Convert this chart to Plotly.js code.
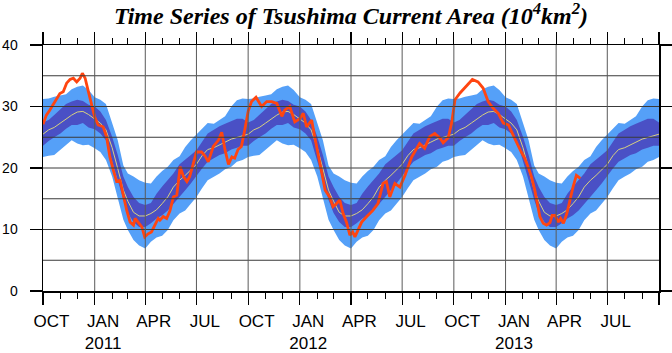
<!DOCTYPE html>
<html>
<head>
<meta charset="utf-8">
<script src="https://cdn.plot.ly/plotly-3.0.1.min.js"></script>
<style>html,body{margin:0;padding:0;background:#fff}#chart{width:672px;height:353px}</style>
</head>
<body>
<div id="chart"></div>
<script>
// ---- climatology (one year, Oct -> Sep), repeated each season ----
const climMonthDay = ['10-01','10-11','10-21','11-01','11-11','11-21','12-01','12-11','12-21','01-01','01-11','01-21','02-01','02-11','02-21','03-01','03-11','03-21','04-01','04-11','04-21','05-01','05-11','05-21','06-01','06-11','06-21','07-01','07-11','07-21','08-01','08-11','08-21','09-01','09-11','09-21'];
const climOuterTop = [31.2,31.3,31.6,31.8,32.0,32.8,33.2,33.4,32.7,31.5,31.1,30.4,27.5,24.5,20.4,19.1,18.6,18.0,17.6,17.5,18.6,19.5,20.2,21.3,21.9,23.4,24.5,25.4,26.4,27.3,27.2,27.8,28.4,30.0,31.0,31.3];
const climInnerTop = [27.4,27.8,28.6,29.6,30.4,30.8,31.1,30.9,30.3,30.0,29.2,27.8,25.1,22.1,18.6,16.9,15.3,14.3,14.0,14.3,15.8,17.0,18.0,19.1,20.6,21.3,22.1,22.9,24.3,25.6,26.2,26.8,27.2,27.6,28.0,28.0];
const climMean     = [25.5,26.2,26.6,27.3,28.0,28.6,29.1,29.2,28.7,27.9,27.3,26.2,23.3,19.9,16.4,14.6,12.8,12.2,12.2,12.6,13.2,14.2,15.3,16.9,18.0,18.8,19.7,20.6,22.0,23.0,23.3,23.7,24.2,24.7,25.0,25.3];
const climInnerBot = [23.6,24.4,25.0,25.6,26.4,27.0,27.0,27.3,26.6,26.3,25.6,24.5,21.3,18.0,14.8,12.7,11.2,10.4,10.4,11.0,11.8,12.3,13.1,14.2,15.3,16.4,17.5,18.6,19.9,21.0,21.6,22.1,22.4,23.0,23.3,23.6];
const climOuterBot = [21.8,22.0,22.1,22.9,23.7,24.5,24.0,23.7,23.8,23.2,22.6,21.3,18.6,15.3,11.6,9.9,8.3,7.4,6.9,8.0,8.7,9.0,9.9,11.5,12.6,13.1,14.2,15.3,16.7,18.0,18.6,19.1,19.8,20.2,21.0,21.3];
const seasonStartYears = [2010, 2011, 2012];

// ---- observed series ----
const obsDates = ['2010-10-01','2010-10-07','2010-10-13','2010-10-22','2010-10-31','2010-11-06','2010-11-12','2010-11-18','2010-11-24','2010-11-30','2010-12-06','2010-12-10','2010-12-15','2010-12-20','2010-12-26','2011-01-01','2011-01-07','2011-01-16','2011-01-22','2011-01-28','2011-02-03','2011-02-09','2011-02-15','2011-02-21','2011-02-27','2011-03-05','2011-03-11','2011-03-14','2011-03-20','2011-03-26','2011-03-31','2011-04-06','2011-04-12','2011-04-18','2011-04-24','2011-04-27','2011-05-03','2011-05-09','2011-05-15','2011-05-21','2011-05-27','2011-06-02','2011-06-08','2011-06-14','2011-06-19','2011-06-25','2011-07-01','2011-07-10','2011-07-16','2011-07-22','2011-07-31','2011-08-09','2011-08-15','2011-08-21','2011-08-27','2011-09-02','2011-09-07','2011-09-13','2011-09-19','2011-09-25','2011-10-01','2011-10-07','2011-10-15','2011-10-25','2011-11-03','2011-11-12','2011-11-21','2011-11-30','2011-12-05','2011-12-14','2011-12-23','2012-01-01','2012-01-07','2012-01-13','2012-01-22','2012-01-28','2012-02-03','2012-02-09','2012-02-15','2012-02-23','2012-02-29','2012-03-06','2012-03-12','2012-03-18','2012-03-24','2012-03-30','2012-04-04','2012-04-08','2012-04-14','2012-04-20','2012-04-29','2012-05-10','2012-05-19','2012-05-28','2012-06-03','2012-06-09','2012-06-18','2012-06-27','2012-07-06','2012-07-18','2012-07-27','2012-08-01','2012-08-10','2012-08-19','2012-08-28','2012-09-06','2012-09-12','2012-09-21','2012-09-27','2012-10-03','2012-10-12','2012-10-24','2012-11-03','2012-11-13','2012-11-22','2012-12-01','2012-12-10','2012-12-19','2012-12-28','2013-01-06','2013-01-15','2013-01-23','2013-01-29','2013-02-04','2013-02-10','2013-02-16','2013-02-22','2013-03-03','2013-03-09','2013-03-15','2013-03-21','2013-03-25','2013-03-30','2013-04-05','2013-04-09','2013-04-14','2013-04-20','2013-04-26','2013-05-01','2013-05-07','2013-05-10','2013-05-14'];
const obsValues = [27.1,28.6,29.4,30.8,32.1,32.4,33.8,34.4,34.6,34.0,34.6,35.4,34.6,32.7,30.5,28.3,27.0,26.7,25.1,21.8,19.7,17.8,18.0,15.3,13.1,11.2,10.7,11.8,11.0,10.4,8.8,9.3,9.6,10.8,11.8,11.5,12.1,11.8,13.1,15.3,15.6,20.2,18.6,17.8,18.6,20.6,22.6,22.6,22.0,21.0,23.5,24.5,25.8,22.9,20.6,21.8,21.6,23.0,23.5,26.2,29.2,30.8,31.5,30.0,30.8,30.8,30.5,28.4,29.4,30.0,27.5,28.0,28.9,26.7,27.8,24.8,21.8,19.1,16.4,15.3,13.7,14.2,14.8,12.6,11.2,9.1,9.6,8.8,9.9,11.2,12.1,13.1,14.2,17.5,17.8,15.3,17.5,16.9,18.8,21.8,23.2,24.0,23.2,25.1,25.6,24.9,24.1,24.9,27.3,31.1,32.2,33.5,34.4,34.0,33.0,30.8,29.7,28.9,27.3,27.0,25.1,23.7,22.6,21.6,20.2,18.6,16.4,12.1,11.0,10.7,11.1,12.3,12.3,11.2,11.8,11.0,12.6,15.0,16.9,18.8,18.6,18.3];

// ---- axes ----
const xStart = '2010-10-01', xEnd = '2013-10-01';
const labelDates = ['2010-10-16','2011-01-16','2011-04-16','2011-07-16','2011-10-16','2012-01-16','2012-04-16','2012-07-16','2012-10-16','2013-01-16','2013-04-16','2013-07-16'];
const tickLabels = ['OCT','JAN<br>2011','APR','JUL','OCT','JAN<br>2012','APR','JUL','OCT','JAN<br>2013','APR','JUL'];
const xGridDates = ['2011-01-01','2011-04-01','2011-07-01','2011-10-01','2012-01-01','2012-04-01','2012-07-01','2012-10-01','2013-01-01','2013-04-01','2013-07-01'];
const yGridVals = [5,10,15,20,25,30,35];
const titleText = 'Time Series of Tsushima Current Area (10<sup>4</sup>km<sup>2</sup>)';

// build repeated climatology series
const cd = [], cOT = [], cIT = [], cM = [], cIB = [], cOB = [];
seasonStartYears.forEach(y => {
  climMonthDay.forEach((md, i) => {
    const m = parseInt(md.slice(0, 2), 10);
    cd.push((m >= 10 ? y : y + 1) + '-' + md);
    cOT.push(climOuterTop[i]); cIT.push(climInnerTop[i]); cM.push(climMean[i]);
    cIB.push(climInnerBot[i]); cOB.push(climOuterBot[i]);
  });
});
cd.push(xEnd); cOT.push(climOuterTop[0]); cIT.push(climInnerTop[0]); cM.push(climMean[0]);
cIB.push(climInnerBot[0]); cOB.push(climOuterBot[0]);

function band(top, bot, color) {
  return {
    type: 'scatter', mode: 'lines', x: cd.concat(cd.slice().reverse()),
    y: top.concat(bot.slice().reverse()), fill: 'toself', fillcolor: color,
    line: {width: 0, color: color}, hoverinfo: 'skip', showlegend: false
  };
}

const data = [
  band(cOT, cOB, '#55a0f8'),
  band(cIT, cIB, '#4a50c5'),
  {type: 'scatter', mode: 'lines', x: cd, y: cM, line: {color: '#d8d080', width: 1}, showlegend: false},
  {type: 'scatter', mode: 'lines', x: obsDates, y: obsValues, line: {color: '#ff4510', width: 2.8}, showlegend: false},
  {type: 'scatter', mode: 'markers', x: [obsDates[0]], y: [obsValues[0]], xaxis: 'x2', yaxis: 'y',
   marker: {opacity: 0}, hoverinfo: 'skip', showlegend: false}
];

const shapes = [];
yGridVals.forEach(v => shapes.push({type: 'line', xref: 'paper', x0: 0, x1: 1, yref: 'y', y0: v, y1: v,
  line: {color: '#3a3a3a', width: 1}, layer: 'above'}));
xGridDates.forEach(d => shapes.push({type: 'line', yref: 'paper', y0: 0, y1: 1, xref: 'x', x0: d, x1: d,
  line: {color: '#5a5a5a', width: 1}, layer: 'above'}));

const layout = {
  width: 672, height: 353,
  margin: {l: 43, r: 13, t: 45, b: 62, pad: 0},
  paper_bgcolor: '#fff', plot_bgcolor: '#fff',
  showlegend: false,
  title: {text: titleText, font: {family: 'Liberation Serif', size: 24, color: '#000', weight: 'bold', style: 'italic'},
          x: 0.5, xref: 'paper', xanchor: 'center', y: 0.955, yref: 'container', yanchor: 'middle'},
  xaxis: {type: 'date', range: [xStart, xEnd], tick0: xStart, dtick: 'M3', ticks: 'outside', ticklen: 12,
          tickwidth: 1.2, tickcolor: '#000', showticklabels: false, showgrid: false, zeroline: false,
          showline: true, linecolor: '#000', linewidth: 1.5, mirror: 'allticks',
          minor: {tick0: xStart, dtick: 'M1', ticks: 'outside', ticklen: 6, tickwidth: 1, tickcolor: '#000', showgrid: false}},
  xaxis2: {type: 'date', overlaying: 'x', side: 'bottom', range: [xStart, xEnd], tickmode: 'array',
           tickvals: labelDates, ticktext: tickLabels, ticks: '', showline: false, showgrid: false, zeroline: false,
           tickfont: {family: 'Liberation Sans', size: 17, color: '#000'}, ticklabelstandoff: 18},
  yaxis: {range: [0, 40], tick0: 0, dtick: 10, ticks: 'outside', ticklen: 12, tickwidth: 1.2, tickcolor: '#000',
          showline: true, linecolor: '#000', linewidth: 1.5, mirror: 'allticks', showgrid: false, zeroline: false,
          tickfont: {family: 'Liberation Sans', size: 14, color: '#000'}, ticklabelstandoff: 9},
  shapes: shapes
};

Plotly.newPlot('chart', data, layout, {staticPlot: true, displayModeBar: false});
</script>
</body>
</html>
